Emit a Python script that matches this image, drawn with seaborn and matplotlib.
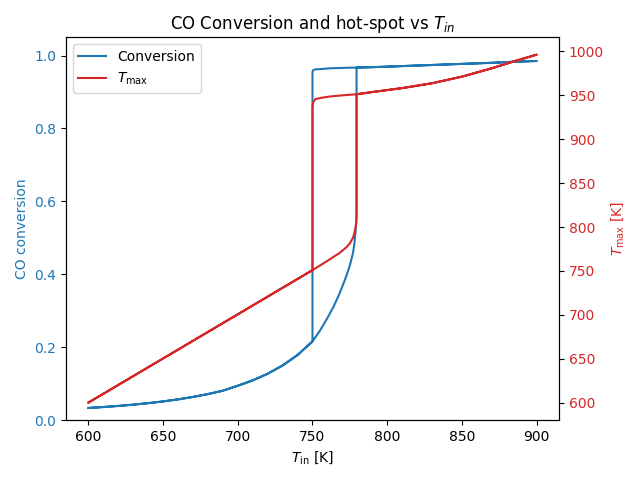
import numpy as np
import pandas as pd
import matplotlib
matplotlib.use("Agg")
import matplotlib.pyplot as plt
import seaborn as sns

# Lower (extinguished) branch: inlet T, conversion, hot-spot T
lower_T = [600, 610, 620, 630, 640, 650, 660, 670, 680, 690, 700, 710, 720, 730, 740,
           750, 755, 760, 764, 768, 771, 773, 775, 777, 778, 778.8, 779.3, 779.5]
lower_X = [0.0330, 0.0356, 0.0386, 0.0421, 0.0462, 0.0510, 0.0566, 0.0633, 0.0711, 0.0804,
           0.0940, 0.1087, 0.1269, 0.1497, 0.1783,
           0.2156, 0.2450, 0.2800, 0.3100, 0.3460, 0.3770, 0.3990, 0.4240, 0.4560, 0.4820,
           0.5150, 0.5450, 0.5770]
lower_Tmax = [600.3, 610.3, 620.4, 630.4, 640.5, 650.5, 660.5, 670.6, 680.6, 690.7,
              700.7, 710.8, 720.8, 730.9, 740.9,
              751.0, 756.2, 761.5, 766.0, 770.3, 774.5, 777.5, 781.3, 787.5, 792.5,
              799.0, 805.0, 812.0]

# Upper (ignited) branch
upper_T = [750, 750.5, 752, 756, 762, 770, 779.5, 790, 810, 830, 850, 870, 885, 900]
upper_X = [0.955, 0.960, 0.962, 0.963, 0.965, 0.966, 0.967, 0.968, 0.971, 0.974, 0.977, 0.980, 0.983, 0.985]
upper_Tmax = [937.0, 942.0, 945.5, 947.0, 948.5, 949.8, 951.0, 953.5, 958.0, 963.5, 971.0, 980.5, 988.5, 996.0]

# Sweep: up along lower branch, jump, continue upper; then back down, drop at 750
fwd_low = pd.DataFrame({"T": lower_T, "X": lower_X, "Tmax": lower_Tmax})
up = pd.DataFrame({"T": upper_T, "X": upper_X, "Tmax": upper_Tmax})
fwd_up = up[up["T"] >= 779.5]
back_up = up.iloc[::-1]
back_low = fwd_low[fwd_low["T"] <= 750].iloc[::-1]
sweep = pd.concat([fwd_low, fwd_up, back_up, back_low], ignore_index=True)

fig, ax1 = plt.subplots(figsize=(6.4, 4.8), dpi=100)
sns.lineplot(data=sweep, x="T", y="X", sort=False, estimator=None,
             color="tab:blue", ax=ax1, label="Conversion", legend=False)
ax1.set_xlabel(r"$T_{\rm in}$ [K]")
ax1.set_ylabel("CO conversion", color="tab:blue")
ax1.tick_params(axis="y", labelcolor="tab:blue")
ax1.set_ylim(0, 1.05)

ax2 = ax1.twinx()
sns.lineplot(data=sweep, x="T", y="Tmax", sort=False, estimator=None,
             color="tab:red", ax=ax2, label=r"$T_{\max}$", legend=False)
ax2.set_ylabel(r"$T_{\max}$ [K]", color="tab:red")
ax2.tick_params(axis="y", labelcolor="tab:red")
ax2.set_xlabel(r"$T_{\rm in}$ [K]")

h1, l1 = ax1.get_legend_handles_labels()
h2, l2 = ax2.get_legend_handles_labels()
ax1.legend(h1 + h2, l1 + l2, loc="upper left")
ax1.set_title(r"CO Conversion and hot-spot vs $T_{in}$")

fig.subplots_adjust(left=0.1031, right=0.8734, bottom=0.125, top=0.9223)
fig.savefig("out.png", dpi=100)
